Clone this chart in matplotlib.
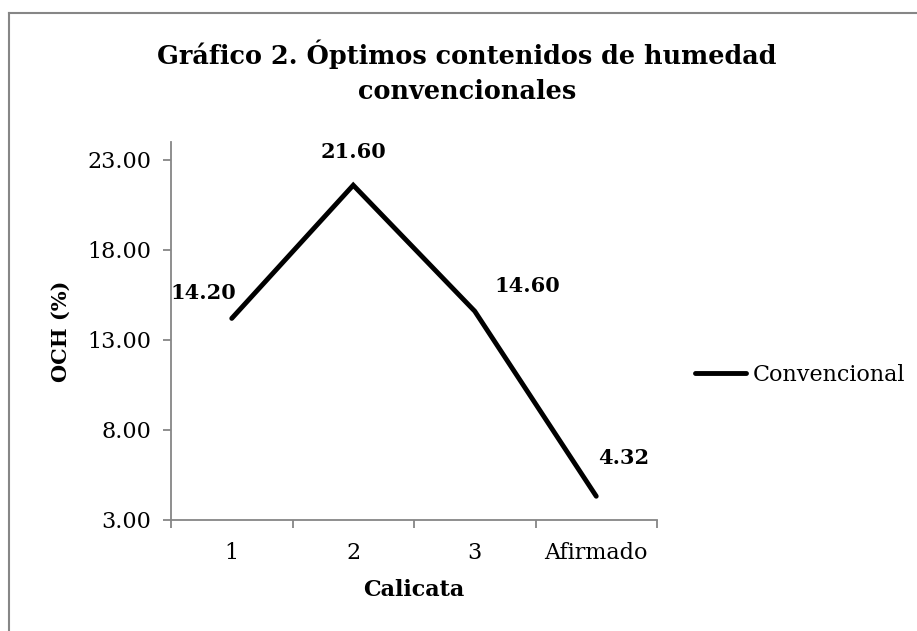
import matplotlib
matplotlib.use("Agg")
import matplotlib.pyplot as plt
from matplotlib.lines import Line2D

# data
categories = ["1", "2", "3", "Afirmado"]
och_values = [14.20, 21.60, 14.60, 4.32]
y_ticks = [3, 8, 13, 18, 23]
series_name = "Convencional"

# manual label offsets (pixels) as placed in the original
label_offsets = [(-28, 25), (0, 33), (53, 25), (27, 38)]

GRAY = "#868686"
plt.rcParams["font.family"] = ["DejaVu Serif"]

fig = plt.figure(figsize=(9.17, 6.31), dpi=100)
ax = fig.add_axes([171 / 917, 111 / 631, 486 / 917, 378 / 631])

x = list(range(len(categories)))
line, = ax.plot(x, och_values, color="black", lw=3.5, solid_joinstyle="miter",
                solid_capstyle="round", label=series_name)

for xi, v, off in zip(x, och_values, label_offsets):
    ax.annotate(f"{v:.2f}", (xi, v), xytext=off, textcoords="offset pixels",
                ha="center", va="center", fontsize=15, fontweight="bold")

ax.set_xlim(-0.5, len(categories) - 0.5)
ax.set_ylim(3, 24)
ax.set_yticks(y_ticks)
ax.set_yticklabels([f"{t:.2f}" for t in y_ticks], fontsize=16)
ax.set_xticks(x)
ax.set_xticklabels(categories, fontsize=16)
ax.set_xticks([i - 0.5 for i in range(len(categories) + 1)], minor=True)
ax.tick_params(axis="x", which="major", length=0, pad=16)
ax.tick_params(axis="x", which="minor", length=6, color=GRAY, width=1.3, direction="out")
ax.tick_params(axis="y", length=6, color=GRAY, width=1.3, pad=8)

for s in ["top", "right"]:
    ax.spines[s].set_visible(False)
for s in ["left", "bottom"]:
    ax.spines[s].set_color(GRAY)
    ax.spines[s].set_linewidth(1.3)

ax.set_xlabel("Calicata", fontsize=16, fontweight="bold", labelpad=11)
ax.set_ylabel("OCH (%)", fontsize=15, fontweight="bold", labelpad=12)

fig.text(467 / 917, 1 - 72 / 631, "Gráfico 2. Óptimos contenidos de humedad\nconvencionales",
         ha="center", va="center", fontsize=18.4, fontweight="bold", linespacing=1.5)

ax.legend(handles=[line], loc="center left", bbox_to_anchor=(695 / 917, 1 - 375 / 631),
          bbox_transform=fig.transFigure, frameon=False, fontsize=16,
          handlelength=2.3, handletextpad=0.3, borderaxespad=0, borderpad=0)

# outer chart border (top and left edges visible)
fig.add_artist(Line2D([8.7 / 917, 1.0], [1 - 12.7 / 631, 1 - 12.7 / 631],
                      transform=fig.transFigure, color=GRAY, lw=1.5))
fig.add_artist(Line2D([8.7 / 917, 8.7 / 917], [0, 1 - 12.7 / 631],
                      transform=fig.transFigure, color=GRAY, lw=1.5))

fig.savefig("out.png", dpi=100)
